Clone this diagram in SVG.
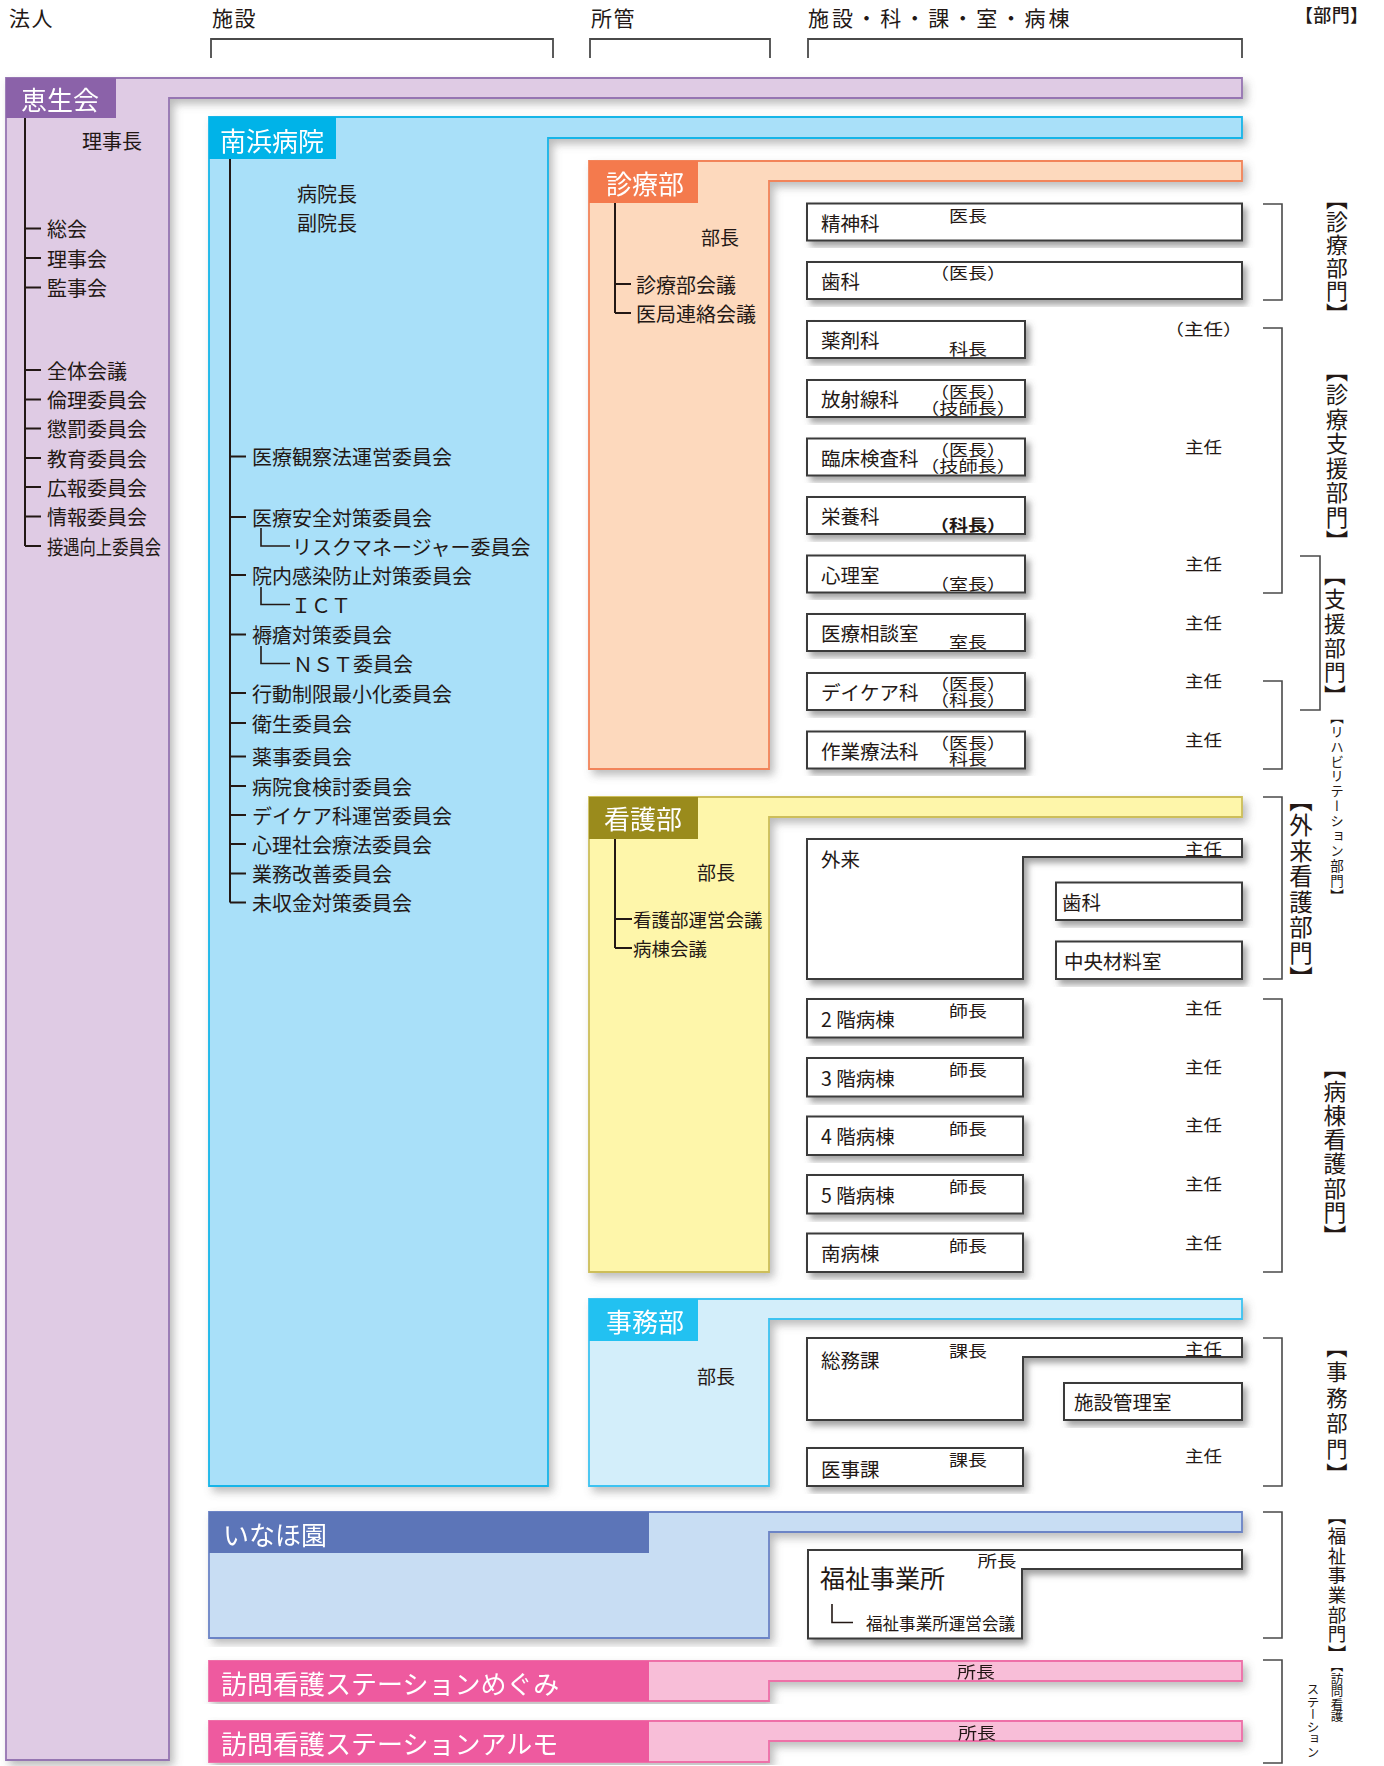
<svg xmlns="http://www.w3.org/2000/svg" width="1384" height="1766" viewBox="0 0 1384 1766">
<defs>
<filter id="sh" x="-5%" y="-5%" width="112%" height="125%">
<feDropShadow dx="4" dy="5" stdDeviation="3" flood-color="#5a5a5a" flood-opacity="0.55"/>
</filter>
<filter id="shf" x="-5%" y="-5%" width="112%" height="112%">
<feDropShadow dx="4" dy="5" stdDeviation="4" flood-color="#6a6a6a" flood-opacity="0.45"/>
</filter>
<style>
text{font-family:"Noto Sans CJK JP","Noto Sans CJK SC",sans-serif;fill:#231815;dominant-baseline:central}
.hdr{font-size:21px;letter-spacing:1.5px}
.t20{font-size:20px}
.nm{font-size:19.5px}
.lb{font-size:16px}
.tab{font-size:26px;fill:#ffffff}
.v{writing-mode:vertical-rl}
.box{fill:#ffffff;stroke:#3a3a3a;stroke-width:2;filter:url(#sh)}
.ln{fill:none;stroke:#231815;stroke-width:2}
.thin{fill:none;stroke:#231815;stroke-width:1.6}
.br{fill:none;stroke:#4a4a4a;stroke-width:1.6}
</style>
</defs>
<rect width="1384" height="1766" fill="#ffffff"/>

<g id="column-headers">
<text class="hdr" x="9" y="17">法人</text>
<text class="hdr" x="212" y="17">施設</text>
<text class="hdr" x="591" y="17">所管</text>
<text class="hdr" x="808" y="17" textLength="263" lengthAdjust="spacing">施設・科・課・室・病棟</text>
<text x="1295" y="14" style="font-size:18px;font-weight:500" textLength="73" lengthAdjust="spacing">【部門】</text>
<path class="br" d="M211,58 V39 H553 V58 M590,58 V39 H770 V58 M808,58 V39 H1242 V58" style="stroke-width:1.8"/>
</g>

<g id="keiseikai" filter="url(#shf)">
<path d="M6,78 H1242 V98 H169 V1760 H6 Z" fill="#DFCBE4" stroke="#9676B2" stroke-width="1.8"/>
<rect x="6" y="78" width="110" height="40" fill="#8B62A9"/>
<text class="tab" x="21" y="98">恵生会</text>
</g>

<g id="keiseikai-items">
<text class="t20" x="82" y="140">理事長</text>
<text class="t20" x="47" y="228.5">総会</text>
<text class="t20" x="47" y="258">理事会</text>
<text class="t20" x="47" y="287.5">監事会</text>
<text class="t20" x="47" y="370">全体会議</text>
<text class="t20" x="47" y="399.5">倫理委員会</text>
<text class="t20" x="47" y="428.5">懲罰委員会</text>
<text class="t20" x="47" y="458">教育委員会</text>
<text class="t20" x="47" y="487">広報委員会</text>
<text class="t20" x="47" y="516.5">情報委員会</text>
<text class="t20" x="47" y="546" textLength="114" lengthAdjust="spacingAndGlyphs">接遇向上委員会</text>
</g>

<g id="minamihama" filter="url(#shf)">
<path d="M209,117 H1242 V138 H548 V1486 H209 Z" fill="#A9E0F9" stroke="#14B5E8" stroke-width="1.8"/>
<rect x="209" y="117" width="127" height="42" fill="#00B3E8"/>
<text class="tab" x="220" y="139">南浜病院</text>
</g>

<g id="minamihama-items">
<text class="t20" x="297" y="193">病院長</text>
<text class="t20" x="297" y="222">副院長</text>
<text class="t20" x="252" y="456.5">医療観察法運営委員会</text>
<text class="t20" x="252" y="517">医療安全対策委員会</text>
<text class="t20" x="292" y="546">リスクマネージャー委員会</text>
<text class="t20" x="252" y="575">院内感染防止対策委員会</text>
<text class="t20" x="291" y="604.5">ＩＣＴ</text>
<text class="t20" x="252" y="634.5">褥瘡対策委員会</text>
<text class="t20" x="293" y="663.5">ＮＳＴ委員会</text>
<text class="t20" x="252" y="693">行動制限最小化委員会</text>
<text class="t20" x="252" y="723">衛生委員会</text>
<text class="t20" x="252" y="756.5">薬事委員会</text>
<text class="t20" x="252" y="786">病院食検討委員会</text>
<text class="t20" x="252" y="815">デイケア科運営委員会</text>
<text class="t20" x="252" y="844">心理社会療法委員会</text>
<text class="t20" x="252" y="873.5">業務改善委員会</text>
<text class="t20" x="252" y="902.5">未収金対策委員会</text>
</g>

<g id="shinryobu" filter="url(#shf)">
<path d="M589,161 H1242 V181 H769 V769 H589 Z" fill="#FDD9BD" stroke="#F2845A" stroke-width="1.8"/>
<rect x="589" y="161" width="109" height="42" fill="#F47A4E"/>
<text class="tab" x="606" y="182">診療部</text>
</g>
<g id="shinryobu-items">
<text x="701" y="236" style="font-size:19px">部長</text>
<text class="t20" x="636" y="284">診療部会議</text>
<text class="t20" x="636" y="313">医局連絡会議</text>
</g>

<g id="shinryo-boxes">
<g id="seishinka"><rect class="box" x="807" y="203.5" width="435" height="37"/><text class="nm" x="821" y="222">精神科</text><text class="lb" x="968" y="214.5" text-anchor="middle" textLength="38" lengthAdjust="spacingAndGlyphs">医長</text></g>
<g id="shika"><rect class="box" x="807" y="262" width="435" height="37"/><text class="nm" x="821" y="280.5">歯科</text><text class="lb" x="968" y="272" text-anchor="middle" textLength="76" lengthAdjust="spacingAndGlyphs">（医長）</text></g>
<g id="yakuzaika"><rect class="box" x="807" y="321" width="218" height="37"/><text class="nm" x="821" y="339.5">薬剤科</text><text class="lb" x="968" y="348" text-anchor="middle" textLength="38" lengthAdjust="spacingAndGlyphs">科長</text></g>
<g id="hoshasenka"><rect class="box" x="807" y="380" width="218" height="37"/><text class="nm" x="821" y="398.5">放射線科</text><text class="lb" x="968" y="390.5" text-anchor="middle" textLength="76" lengthAdjust="spacingAndGlyphs">（医長）</text><text class="lb" x="968" y="406.5" text-anchor="middle" textLength="96" lengthAdjust="spacingAndGlyphs">（技師長）</text></g>
<g id="rinsho"><rect class="box" x="807" y="438.5" width="218" height="37"/><text class="nm" x="821" y="457">臨床検査科</text><text class="lb" x="968" y="448.5" text-anchor="middle" textLength="76" lengthAdjust="spacingAndGlyphs">（医長）</text><text class="lb" x="968" y="464.5" text-anchor="middle" textLength="96" lengthAdjust="spacingAndGlyphs">（技師長）</text></g>
<g id="eiyoka"><rect class="box" x="807" y="497" width="218" height="37"/><text class="nm" x="821" y="515.5">栄養科</text><text class="lb" x="968" y="524" text-anchor="middle" textLength="76" lengthAdjust="spacingAndGlyphs" style="font-weight:700">（科長）</text></g>
<g id="shinrishitsu"><rect class="box" x="807" y="555.5" width="218" height="37"/><text class="nm" x="821" y="574">心理室</text><text class="lb" x="968" y="582.5" text-anchor="middle" textLength="76" lengthAdjust="spacingAndGlyphs">（室長）</text></g>
<g id="sodanshitsu"><rect class="box" x="807" y="614" width="218" height="37"/><text class="nm" x="821" y="632.5">医療相談室</text><text class="lb" x="968" y="641" text-anchor="middle" textLength="38" lengthAdjust="spacingAndGlyphs">室長</text></g>
<g id="daycare"><rect class="box" x="807" y="673" width="218" height="37"/><text class="nm" x="821" y="691.5">デイケア科</text><text class="lb" x="968" y="683" text-anchor="middle" textLength="76" lengthAdjust="spacingAndGlyphs">（医長）</text><text class="lb" x="968" y="699" text-anchor="middle" textLength="76" lengthAdjust="spacingAndGlyphs">（科長）</text></g>
<g id="sagyo"><rect class="box" x="807" y="731.5" width="218" height="37"/><text class="nm" x="821" y="750">作業療法科</text><text class="lb" x="968" y="741.5" text-anchor="middle" textLength="76" lengthAdjust="spacingAndGlyphs">（医長）</text><text class="lb" x="968" y="758" text-anchor="middle" textLength="38" lengthAdjust="spacingAndGlyphs">科長</text></g>
<text class="lb" x="1203.5" y="328" text-anchor="middle" textLength="78" lengthAdjust="spacingAndGlyphs">（主任）</text>
<text class="lb" x="1203.5" y="446" text-anchor="middle" textLength="37" lengthAdjust="spacingAndGlyphs">主任</text>
<text class="lb" x="1203.5" y="563" text-anchor="middle" textLength="37" lengthAdjust="spacingAndGlyphs">主任</text>
<text class="lb" x="1203.5" y="622" text-anchor="middle" textLength="37" lengthAdjust="spacingAndGlyphs">主任</text>
<text class="lb" x="1203.5" y="680" text-anchor="middle" textLength="37" lengthAdjust="spacingAndGlyphs">主任</text>
<text class="lb" x="1203.5" y="739" text-anchor="middle" textLength="37" lengthAdjust="spacingAndGlyphs">主任</text>
</g>

<g id="kangobu" filter="url(#shf)">
<path d="M589,797 H1242 V817 H769 V1272 H589 Z" fill="#FEF6AA" stroke="#CDBE5A" stroke-width="1.8"/>
<rect x="589" y="797" width="109" height="42" fill="#9A8B1D"/>
<text class="tab" x="604" y="817">看護部</text>
</g>
<g id="kangobu-items">
<text x="697" y="871" style="font-size:19px">部長</text>
<text x="633" y="919" style="font-size:18.5px">看護部運営会議</text>
<text x="633" y="948" style="font-size:18.5px">病棟会議</text>
</g>

<g id="kango-boxes">
<g id="gairai"><path class="box" d="M807,839 H1242 V857 H1023 V979 H807 Z"/><text class="nm" x="821" y="858">外来</text><text class="lb" x="1203.5" y="848" text-anchor="middle" textLength="37" lengthAdjust="spacingAndGlyphs">主任</text></g>
<g id="gairai-shika"><rect class="box" x="1056" y="882.5" width="186" height="37.5"/><text class="nm" x="1062" y="901.5">歯科</text></g>
<g id="chuozairyo"><rect class="box" x="1056" y="941.5" width="186" height="37.5"/><text class="nm" x="1064" y="960.5">中央材料室</text></g>
<g id="ward2"><rect class="box" x="807" y="999" width="216" height="38.5"/><text class="nm" x="821" y="1018">2 階病棟</text><text class="lb" x="968" y="1010" text-anchor="middle" textLength="38" lengthAdjust="spacingAndGlyphs">師長</text></g>
<g id="ward3"><rect class="box" x="807" y="1058" width="216" height="38.5"/><text class="nm" x="821" y="1077">3 階病棟</text><text class="lb" x="968" y="1069" text-anchor="middle" textLength="38" lengthAdjust="spacingAndGlyphs">師長</text></g>
<g id="ward4"><rect class="box" x="807" y="1116.5" width="216" height="38.5"/><text class="nm" x="821" y="1135.5">4 階病棟</text><text class="lb" x="968" y="1127.5" text-anchor="middle" textLength="38" lengthAdjust="spacingAndGlyphs">師長</text></g>
<g id="ward5"><rect class="box" x="807" y="1175" width="216" height="38.5"/><text class="nm" x="821" y="1194">5 階病棟</text><text class="lb" x="968" y="1186" text-anchor="middle" textLength="38" lengthAdjust="spacingAndGlyphs">師長</text></g>
<g id="ward-minami"><rect class="box" x="807" y="1233.5" width="216" height="38.5"/><text class="nm" x="821" y="1252.5">南病棟</text><text class="lb" x="968" y="1244.5" text-anchor="middle" textLength="38" lengthAdjust="spacingAndGlyphs">師長</text></g>
<text class="lb" x="1203.5" y="1007" text-anchor="middle" textLength="37" lengthAdjust="spacingAndGlyphs">主任</text>
<text class="lb" x="1203.5" y="1066" text-anchor="middle" textLength="37" lengthAdjust="spacingAndGlyphs">主任</text>
<text class="lb" x="1203.5" y="1124" text-anchor="middle" textLength="37" lengthAdjust="spacingAndGlyphs">主任</text>
<text class="lb" x="1203.5" y="1183" text-anchor="middle" textLength="37" lengthAdjust="spacingAndGlyphs">主任</text>
<text class="lb" x="1203.5" y="1242" text-anchor="middle" textLength="37" lengthAdjust="spacingAndGlyphs">主任</text>
</g>

<g id="jimubu" filter="url(#shf)">
<path d="M589,1299 H1242 V1319 H769 V1486 H589 Z" fill="#D3EEFA" stroke="#3EC3F1" stroke-width="1.8"/>
<rect x="589" y="1299" width="109" height="42" fill="#22C1F1"/>
<text class="tab" x="606" y="1320">事務部</text>
</g>
<g id="jimubu-items">
<text x="697" y="1375" style="font-size:19px">部長</text>
</g>
<g id="jimu-boxes">
<g id="somuka"><path class="box" d="M807,1338 H1242 V1357 H1023 V1420 H807 Z"/><text class="nm" x="821" y="1359">総務課</text><text class="lb" x="968" y="1350" text-anchor="middle" textLength="38" lengthAdjust="spacingAndGlyphs">課長</text><text class="lb" x="1203.5" y="1348" text-anchor="middle" textLength="37" lengthAdjust="spacingAndGlyphs">主任</text></g>
<g id="shisetsukanri"><rect class="box" x="1064" y="1383" width="178" height="37"/><text class="nm" x="1074" y="1401.5">施設管理室</text></g>
<g id="ijika"><rect class="box" x="807" y="1448" width="216" height="38"/><text class="nm" x="821" y="1468">医事課</text><text class="lb" x="968" y="1459" text-anchor="middle" textLength="38" lengthAdjust="spacingAndGlyphs">課長</text></g>
<text class="lb" x="1203.5" y="1455" text-anchor="middle" textLength="37" lengthAdjust="spacingAndGlyphs">主任</text>
</g>

<g id="inahoen" filter="url(#shf)">
<path d="M209,1512 H1242 V1532 H769 V1638 H209 Z" fill="#C8DDF3" stroke="#6C84C6" stroke-width="1.8"/>
<rect x="209" y="1512" width="440" height="41" fill="#5B74B8"/>
<text class="tab" x="223" y="1533">いなほ園</text>
</g>
<g id="fukushi">
<path class="box" d="M808,1550 H1242 V1569 H1022 V1638.5 H808 Z"/>
<text x="820" y="1577" style="font-size:25px">福祉事業所</text>
<text class="lb" x="997" y="1560" text-anchor="middle" textLength="39" lengthAdjust="spacingAndGlyphs">所長</text>
<text x="866" y="1622.5" style="font-size:16.5px" textLength="149" lengthAdjust="spacingAndGlyphs">福祉事業所運営会議</text>
</g>

<g id="megumi" filter="url(#shf)">
<path d="M209,1661 H1242 V1681 H769 V1701 H209 Z" fill="#F8BED8" stroke="#EE6FA8" stroke-width="1.8"/>
<rect x="209" y="1661" width="440" height="40" fill="#EE5A9F"/>
<text class="tab" x="221" y="1682">訪問看護ステーションめぐみ</text>
<text class="lb" x="976" y="1671" text-anchor="middle" textLength="38" lengthAdjust="spacingAndGlyphs">所長</text>
</g>
<g id="arumo" filter="url(#shf)">
<path d="M209,1721 H1242 V1741 H769 V1762 H209 Z" fill="#F8BED8" stroke="#EE6FA8" stroke-width="1.8"/>
<rect x="209" y="1721" width="440" height="41" fill="#EE5A9F"/>
<text class="tab" x="221" y="1742">訪問看護ステーションアルモ</text>
<text class="lb" x="977" y="1732" text-anchor="middle" textLength="38" lengthAdjust="spacingAndGlyphs">所長</text>
</g>

<g id="connectors">
<path class="ln" d="M25,118 V546 M25,228.5 H41 M25,258 H41 M25,287.5 H41 M25,370 H41 M25,399.5 H41 M25,428.5 H41 M25,458 H41 M25,487 H41 M25,516.5 H41 M25,546 H41"/>
<path class="ln" d="M230,159 V902.5 M230,456.5 H246 M230,517 H246 M230,575 H246 M230,634.5 H246 M230,693 H246 M230,723 H246 M230,756.5 H246 M230,786 H246 M230,815 H246 M230,844 H246 M230,873.5 H246 M230,902.5 H246"/>
<path class="thin" d="M261,528 V546 H290 M261,587 V604.5 H290 M261,646 V663.5 H290"/>
<path class="ln" d="M615,203 V313 M615,284 H631 M615,313 H631"/>
<path class="ln" d="M615,839 V948 M615,919 H632 M615,948 H632"/>
<path class="thin" d="M832,1604 V1622.5 H853"/>
</g>

<g id="division-brackets">
<path class="br" d="M1263,204 H1282 V300 H1263"/>
<path class="br" d="M1263,328 H1282 V593 H1263"/>
<path class="br" d="M1300,556 H1320 V710 H1300"/>
<path class="br" d="M1263,681 H1282 V769 H1263"/>
<path class="br" d="M1263,797 H1282 V979 H1263"/>
<path class="br" d="M1263,999 H1282 V1272 H1263"/>
<path class="br" d="M1263,1338 H1282 V1486 H1263"/>
<path class="br" d="M1263,1512 H1282 V1638 H1263"/>
<path class="br" d="M1263,1660 H1282 V1763 H1263"/>
<text class="v" x="1337" y="188" style="font-size:21.8px;letter-spacing:1.2px">【診療部門】</text>
<text class="v" x="1337" y="359" style="font-size:22.4px;letter-spacing:2.1px">【診療支援部門】</text>
<text class="v" x="1335" y="564" style="font-size:21.8px;letter-spacing:2.4px">【支援部門】</text>
<text class="v" x="1337" y="710" style="font-size:13.5px;letter-spacing:1.4px">【リハビリテーション部門】</text>
<text class="v" x="1301" y="788" style="font-size:23.5px;letter-spacing:2px">【外来看護部門】</text>
<text class="v" x="1335" y="1056" style="font-size:22.8px;letter-spacing:1.3px">【病棟看護部門】</text>
<text class="v" x="1337" y="1336" style="font-size:21.3px;letter-spacing:4.2px">【事務部門】</text>
<text class="v" x="1337" y="1507" style="font-size:18.5px;letter-spacing:1.2px">【福祉事業部門】</text>
<text class="v" x="1337" y="1660" style="font-size:12.5px">【訪問看護</text>
<text class="v" x="1313" y="1683" style="font-size:12.5px">ステーション</text>
</g>
</svg>
